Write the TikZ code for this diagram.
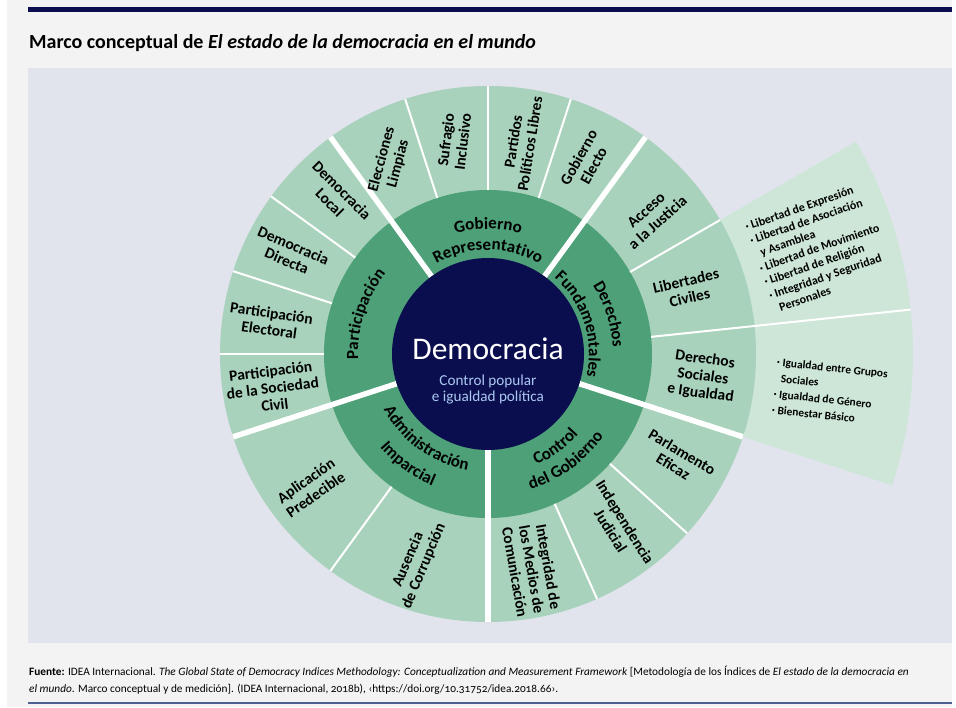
\documentclass[tikz,border=0pt]{standalone}
\usepackage{fontspec}
\setmainfont{Carlito}
\newfontfamily\footfont[Numbers=OldStyle]{Carlito}
\usetikzlibrary{decorations.text}
\definecolor{pagebg}{HTML}{F3F3F3}
\definecolor{panel}{HTML}{E1E4ED}
\definecolor{navy}{HTML}{0B0E4E}
\definecolor{midg}{HTML}{4DA078}
\definecolor{outg}{HTML}{A8D2BB}
\definecolor{extg}{HTML}{CDE6D7}
\definecolor{subblue}{HTML}{AAC8F2}
\definecolor{rulebl}{HTML}{4E5F92}
\newcommand\midfont{\bfseries\fontsize{17}{17}\selectfont}
\newcommand\midarc[4]{\path[decorate,decoration={text along path,text align=center,text={|\midfont|#1}}] (#2:#4) arc[start angle=#2,end angle=#3,radius=#4];}
\begin{document}
\begin{tikzpicture}[x=1pt,y=1pt,
  olab/.style={align=center, inner sep=0pt, font=\bfseries\fontsize{15.5}{17}\selectfont},
  elist/.style={align=left, inner sep=0pt, font=\bfseries\fontsize{12}{14.6}\selectfont},
  thinsep/.style={white, line width=2pt},
  thicksep/.style={white, line width=5.5pt}]
\useasboundingbox (0,0) rectangle (956,707);
\fill[white] (0,0) rectangle (956,707);
\fill[pagebg] (7,0) rectangle (952,707);
\fill[navy] (28,695) rectangle (952,700);
\node[anchor=base west, inner sep=0pt, font=\bfseries\fontsize{20}{22}\selectfont] (title) at (29,658)
  {Marco conceptual de \textit{El estado de la democracia en el mundo}};
\fill[panel] (28,64) rectangle (952,639);
\begin{scope}[shift={(488,353)}]
  \fill[extg] (0,0) -- (-18:425) arc[start angle=-18,end angle=30,radius=425] -- cycle;
  \fill[outg] (0,0) circle[radius=268];
  \fill[midg] (0,0) circle[radius=164];
  \foreach \a in {30,72,90,108,144,162,180,234,294,318}
    \draw[thinsep] (\a:164) -- (\a:268);
  \draw[thinsep] (6:164) -- (6:425);
  \foreach \a in {54,126,198,270,342}
    \draw[thicksep] (\a:96) -- (\a:268);
  \fill[navy] (0,0) circle[radius=96];
  % centre
  \node[anchor=base, inner sep=0pt, text=white, font=\fontsize{31.5}{32}\selectfont] (dem) at (0,-6) {Democracia};
  \node[anchor=base, inner sep=0pt, text=subblue, font=\fontsize{15.2}{16}\selectfont] (ctl) at (0,-32) {Control popular};
  \node[anchor=base, inner sep=0pt, text=subblue, font=\fontsize{15.2}{16}\selectfont] (igu) at (0,-48) {e igualdad política};
  % middle ring (curved)
  \midarc{Gobierno}{126}{54}{125}
  \midarc{Representativo}{126}{54}{104}
  \midarc{Derechos}{54}{-18}{125}
  \midarc{Fundamentales}{54}{-18}{101}
  \midarc{Participación}{198}{126}{130}
  \midarc{Administración}{198}{270}{118}
  \midarc{Imparcial}{198}{270}{143}
  \midarc{Control}{270}{342}{121}
  \midarc{del Gobierno}{270}{342}{142}
  % outer ring
  \node[olab, rotate=75] (el) at (117:216) {Elecciones\\Limpias};
  \node[olab, rotate=83] (su) at (99:216) {Sufragio\\Inclusivo};
  \node[olab, rotate=81] (pa) at (81:214) {Partidos\\Políticos Libres};
  \node[olab, rotate=61] (ge) at (63:216) {Gobierno\\Electo};
  \node[olab, rotate=-45] (dl) at (134:219) {Democracia\\Local};
  \node[olab, rotate=-23] (dd) at (153:222) {Democracia\\Directa};
  \node[olab, rotate=-8] (pe) at (171.5:220) {Participación\\Electoral};
  \node[olab, rotate=7] (ps) at (189:218) {Participación\\de la Sociedad\\Civil};
  \node[olab, rotate=35] (ap) at (217:222) {Aplicación\\Predecible};
  \node[olab, rotate=67] (au) at (251:221) {Ausencia\\de Corrupción};
  \node[olab, rotate=-80] (im) at (-78.5:220) {Integridad de\\los Medios de\\Comunicación};
  \node[olab, rotate=-58] (ij) at (-53:216) {Independencia\\Judicial};
  \node[olab, rotate=-31] (pz) at (-29:217) {Parlamento\\Eficaz};
  \node[olab, rotate=-8] (ds) at (-6:216) {Derechos\\Sociales\\e Igualdad};
  \node[olab, rotate=13] (lc) at (18:210) {Libertades\\Civiles};
  \node[olab, rotate=42] (aj) at (40:214) {Acceso\\a la Justicia};
  % extension lists
  \node[elist, rotate=19] (llist) at (17.8:348) {%
    · Libertad de Expresión\\
    · Libertad de Asociación\\
    \phantom{·} y Asamblea\\
    · Libertad de Movimiento\\
    · Libertad de Religión\\
    · Integridad y Seguridad\\
    \phantom{·} Personales};
  \node[elist, rotate=-6, font=\bfseries\fontsize{11.4}{16}\selectfont] (dlist) at (-6.3:344) {%
    · Igualdad entre Grupos\\
    \phantom{·} Sociales\\
    · Igualdad de Género\\
    · Bienestar Básico};
\end{scope}
\node[anchor=base west, inner sep=0pt, font=\footfont\fontsize{11.3}{13}\selectfont] (f1) at (29,31)
  {\textbf{Fuente:} IDEA Internacional. \textit{The Global State of Democracy Indices Methodology: Conceptualization and Measurement Framework} [Metodología de los Índices de \textit{El estado de la democracia en}};
\node[anchor=base west, inner sep=0pt, font=\footfont\fontsize{11.3}{13}\selectfont] (f2) at (29,15)
  {\textit{el mundo}. Marco conceptual y de medición]. (IDEA Internacional, 2018b), ‹https://doi.org/10.31752/idea.2018.66›.};
\draw[rulebl, line width=1.5pt] (28,4) -- (952,4);
\end{tikzpicture}
\end{document}
